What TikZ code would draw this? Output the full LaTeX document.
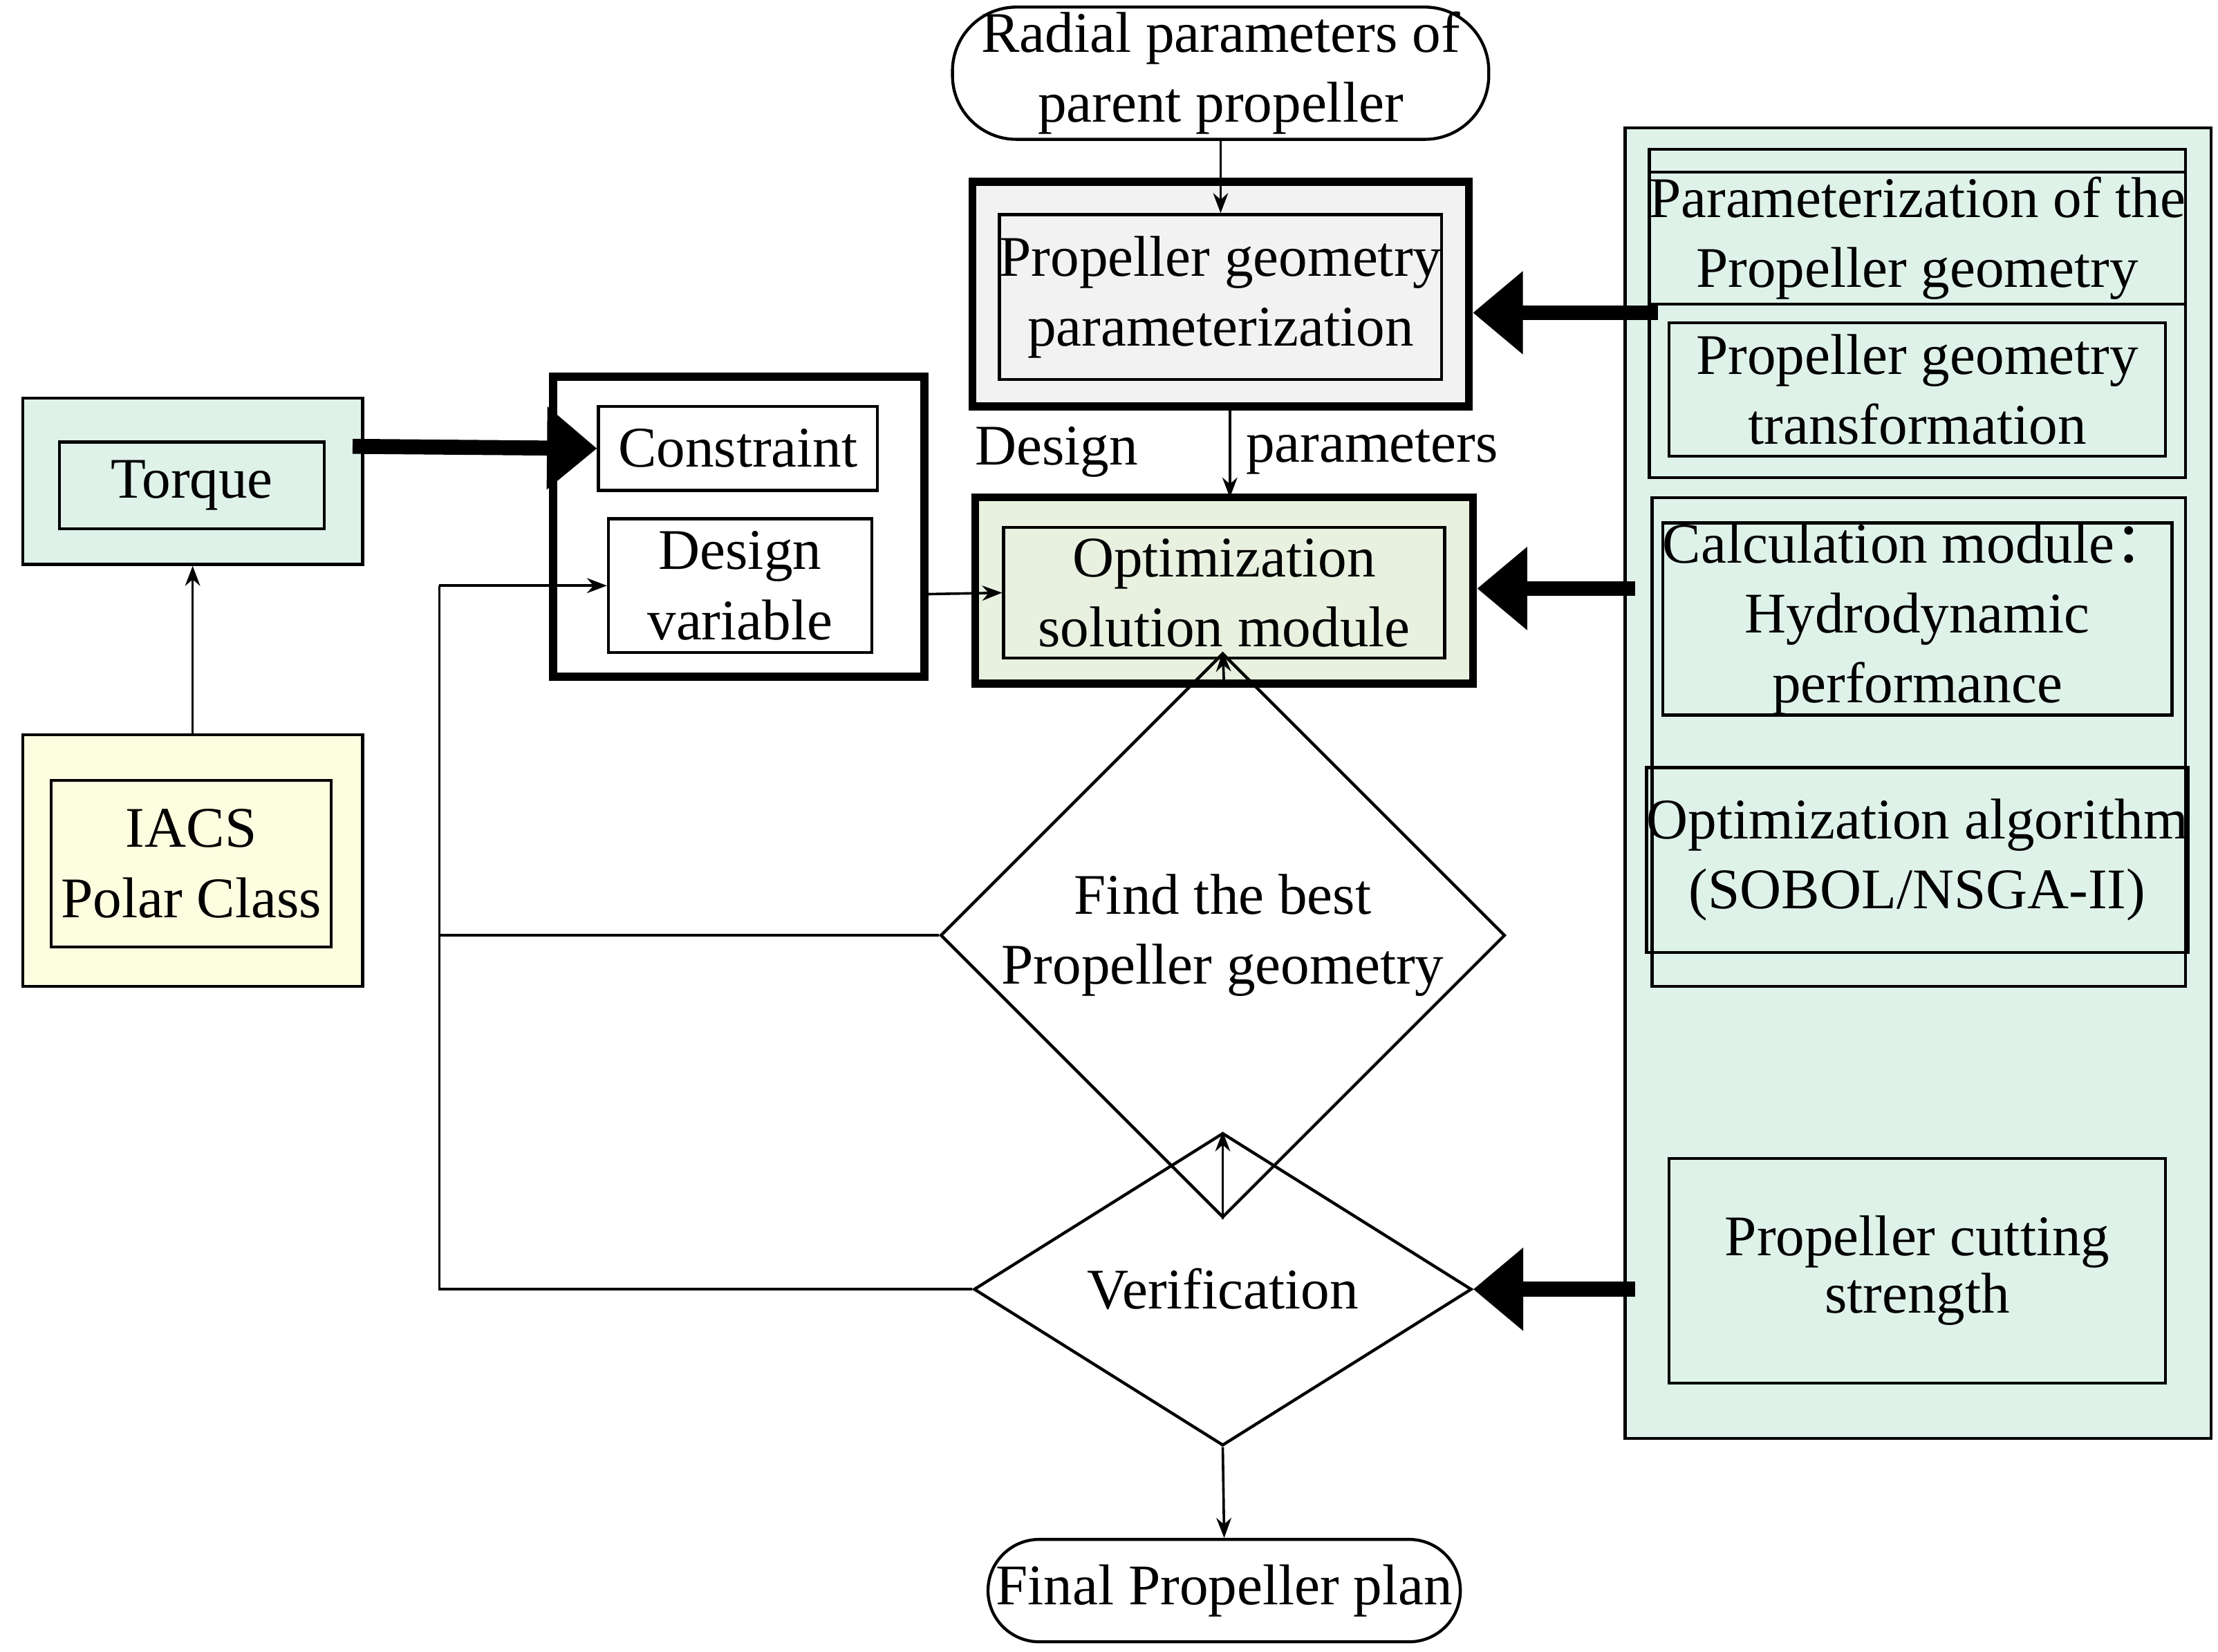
\documentclass[tikz,border=0pt]{standalone}
\usepackage{fontspec}
\setmainfont{Liberation Serif}
\newfontfamily\cjk{Noto Sans CJK SC}
\usetikzlibrary{shapes.geometric,arrows.meta}
\begin{document}
\begin{tikzpicture}[x=0.01cm,y=-0.01cm,
  font=\fontsize{11.5}{14}\selectfont,
  bx/.style={draw,line width=0.6pt,align=center,inner sep=0pt},
  thickb/.style={draw,line width=1.6pt},
  ar/.style={-{Stealth[length=4pt,width=3pt]},line width=0.5pt},
  big/.style={-{Triangle[length=10pt,width=16pt]},line width=3pt}]
\useasboundingbox (0,0) rectangle (1560,1162);
\definecolor{mint}{HTML}{DFF2E9}
\definecolor{lgreen}{HTML}{E8F0DF}
\definecolor{lyel}{HTML}{FDFDE0}
\definecolor{lgray}{HTML}{F2F2F2}
% right panel
\fill[mint] (1143,90) rectangle (1555,1012);
\draw[line width=0.6pt] (1143,90) rectangle (1555,1012);
\draw[line width=0.6pt] (1160,105) rectangle (1537,336);
\draw[line width=0.6pt] (1162,350) rectangle (1537,694);
\node[bx,minimum width=3.49cm,minimum height=0.93cm] (p1) at (1348.5,167.5) {Parameterization of the\\Propeller geometry};
\node[bx,minimum width=3.49cm,minimum height=0.94cm] (p2) at (1348.5,274) {Propeller geometry\\transformation};
\node[bx,minimum width=3.49cm,minimum height=1.31cm] (c1) at (1348.5,435.5) {Calculation module{\cjk ：}\\Hydrodynamic\\performance};
\node[bx,minimum width=3.49cm,minimum height=1.30cm] (c2) at (1348.5,605) {Optimization algorithm\\(SOBOL/NSGA-II)};
\node[bx,minimum width=3.49cm,minimum height=1.58cm,font=\fontsize{11.5}{9}\selectfont] (ps) at (1348.5,894) {Propeller cutting\\strength};
% top
\node[draw,line width=0.6pt,rounded corners=0.45cm,minimum width=3.77cm,minimum height=0.93cm,align=center,inner sep=0pt] (rad) at (858.5,51.5) {Radial parameters of\\parent propeller};
\node[thickb,fill=lgray,minimum width=3.49cm,minimum height=1.58cm,inner sep=0pt] (pgo) at (858.5,207) {};
\node[bx,minimum width=2.91cm,minimum height=1.16cm] (pg) at (858.5,209) {Propeller geometry\\parameterization};
\node[thickb,fill=lgreen,minimum width=3.50cm,minimum height=1.31cm,inner sep=0pt] (opo) at (861,415.5) {};
\node[bx,minimum width=3.10cm,minimum height=0.92cm] (op) at (861,417) {Optimization\\solution module};
\node (dl) at (743,318) {Design};
\node (pl) at (965,318) {parameters};
% left
\node[draw,line width=0.6pt,fill=mint,minimum width=2.39cm,minimum height=1.17cm,inner sep=0pt] (to) at (135.5,338.5) {};
\node[bx,minimum width=1.86cm,minimum height=0.61cm] (t) at (135,341.5) {Torque};
\node[draw,line width=0.6pt,fill=lyel,minimum width=2.39cm,minimum height=1.77cm,inner sep=0pt] (io) at (135.5,605.5) {};
\node[bx,minimum width=1.97cm,minimum height=1.17cm] (i) at (134.5,607.5) {IACS\\Polar Class};
\node[thickb,minimum width=2.61cm,minimum height=2.11cm,inner sep=0pt] (mid) at (519.5,370.5) {};
\node[bx,minimum width=1.96cm,minimum height=0.59cm] (con) at (519,315.5) {Constraint};
\node[bx,minimum width=1.85cm,minimum height=0.94cm] (dv) at (520.5,412) {Design\\variable};
% diamonds
\node[draw,line width=0.6pt,diamond,minimum width=3.76cm,minimum height=2.10cm,inner sep=0pt,align=center] (d1) at (860,658) {Find the best\\Propeller geometry};
\node[draw,line width=0.6pt,diamond,minimum width=3.50cm,minimum height=1.60cm,inner sep=0pt] (d2) at (860,907) {Verification};
\node[draw,line width=0.6pt,rounded corners=0.36cm,minimum width=3.32cm,minimum height=0.72cm,inner sep=0pt] (fin) at (861,1119) {Final Propeller plan};
% connectors
\draw[ar] (rad.south) -- (pg.north);
\draw[ar] (865,286) -- (865,350);
\draw[ar] (io.north) -- (to.south);
\draw[big] (248,314) -- (con.west);
\draw[ar] (650,418) -- (op.west);
\draw[ar] (opo.south -| op) -- (d1.north);
\draw[ar] (d1.south) -- (d2.north);
\draw[ar] (d2.south) -- (fin.north);
\coordinate (lb) at (309,907);
\coordinate (lt) at (309,412);
\draw[line width=0.5pt] (d1.west) -- (309,658);
\draw[line width=0.5pt] (d2.west) -- (lb) -- (lt);
\draw[ar] (lt) -- (dv.west);
\draw[big] (1166,220) -- (pgo.east |- 0,220);
\draw[big] (1150,414) -- (opo.east |- 0,414);
\draw[big] (1150,907) -- (d2.east);
\end{tikzpicture}
\end{document}
